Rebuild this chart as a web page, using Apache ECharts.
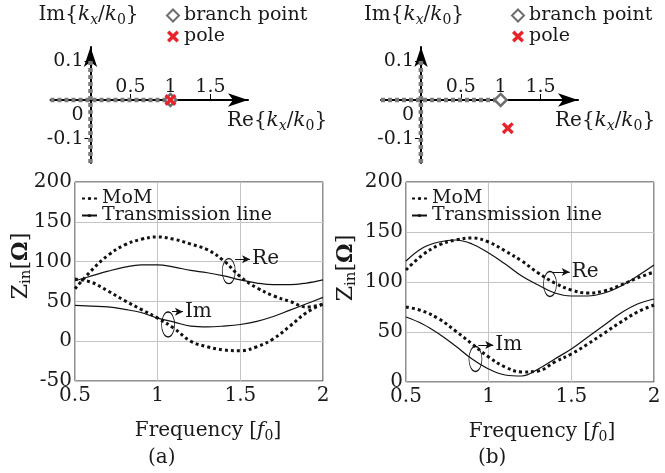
<!DOCTYPE html>
<html lang="en">
<head>
    <meta charset="UTF-8">
    <title>Zin</title>
    <script src="https://cdn.jsdelivr.net/npm/echarts@6/dist/echarts.min.js"></script>
    <style>
        body { margin: 0; padding: 0; background: #fff; }
        #chart { width: 665px; height: 473px; }
    </style>
</head>
<body>
<div id="chart"></div>
<script>
    // frequency samples [f0]
    const freq = [0.5, 0.6, 0.7, 0.8, 0.9, 1.0, 1.1, 1.2, 1.3, 1.4, 1.5, 1.6, 1.7, 1.8, 1.9, 2.0]
    // (a)
    const momReA = [66, 89, 108, 121, 128, 131, 128, 122, 115, 101, 81, 67, 57, 50, 43, 46]
    const momImA = [78, 74, 63, 51, 40, 29, 16, 0, -7, -11, -12, -7, 3, 19, 36, 47]
    const tlReA = [76, 82, 88, 93, 96, 96, 93, 89, 86, 82, 77, 73, 71, 71, 73, 77]
    const tlImA = [45, 44, 43, 40, 36, 29, 24, 19, 18, 19, 21, 25, 31, 39, 47, 55]
    // (b)
    const momReB = [112, 127, 137, 142, 144, 140, 131, 121, 109, 99, 92, 89, 91, 97, 104, 110]
    const momImB = [75, 71, 63, 51, 38, 25, 15, 10, 11, 20, 28, 38, 49, 60, 70, 77]
    const tlReB = [121, 134, 140, 142, 138, 129, 118, 106, 97, 89, 86, 86, 89, 96, 106, 117]
    const tlImB = [65, 58, 48, 36, 23, 13, 7, 6, 13, 23, 33, 45, 57, 69, 78, 83]

    // complex kx/k0 plane
    const branchA = [[1, 0]]
    const poleA = [[1, 0]]
    const branchB = [[1, 0]]
    const poleB = [[1.09, -0.073]]
    const cutRe = [[-0.5, 0], [1, 0]]
    const cutIm = [[0, -0.163], [0, 0.105]]
    const planeTicksX = [0.5, 1, 1.5]
    const planeTicksY = [-0.1, 0.1]
    const planeLabelsY = [-0.1, 0, 0.1]

    // ellipse + arrow callouts: [label, ellipse centre, arrow start, arrow end]
    const notesA = [['Re', [1.43, 88], [1.468, 103], [1.559, 103]], ['Im', [1.063, 21], [1.087, 37], [1.153, 37]]]
    const notesB = [['Re', [1.371, 98], [1.385, 110], [1.49, 110]], ['Im', [0.92, 23], [0.937, 37], [1.028, 37]]]

    const F = 'DejaVu Serif'
    const C = '#1a1a1a'

    function richSet(size, key) {
        key = key || 'color'
        const sub = Math.round(size * 0.68)
        const t = (o) => { o[key] = C; o.fontFamily = F; return o }
        return {
            n: t({fontSize: size, lineHeight: size + 4}),
            i: t({fontSize: size, lineHeight: size + 4, fontStyle: 'italic'}),
            o: t({fontSize: size, lineHeight: size + 4, fontWeight: 'bold'}),
            s: t({fontSize: sub, lineHeight: sub, verticalAlign: 'bottom'}),
            si: t({fontSize: sub, lineHeight: sub, verticalAlign: 'bottom', fontStyle: 'italic'}),
            z: t({fontSize: size, padding: [30, 0, 0, 0]})
        }
    }

    const imName = '{n|Im{}{i|k}{si|x}{n|/}{i|k}{s|0}}'
    const reName = '{n|Re{}{i|k}{si|x}{n|/}{i|k}{s|0}}'
    const zName = '{n|Z}{s|in}{n|[}{o|Ω}{n|]}'

    // the plane axes cross at the origin: shift them in from the grid edges
    function planeAxes(gi, gapX, yPad) {
        const x = {
            gridIndex: gi, type: 'value', min: -0.5, max: 1.97, offset: -63,
            axisLine: {show: true, onZero: false, symbol: ['none', 'arrow'], symbolSize: [10, 20], lineStyle: {color: '#000', width: 2}},
            axisTick: {show: true, inside: true, customValues: planeTicksX, length: 6, lineStyle: {color: '#000', width: 1}},
            axisLabel: {show: true, inside: true, margin: 3, customValues: planeTicksX, formatter: v => String(v),
                fontFamily: F, fontSize: 19, color: C},
            splitLine: {show: false},
            name: reName, nameLocation: 'end', nameGap: gapX, nameMoveOverlap: false,
            nameTextStyle: {fontFamily: F, fontSize: 20, color: C, padding: [42, 0, 0, 0], rich: richSet(20)}
        }
        const y = {
            gridIndex: gi, type: 'value', min: -0.163, max: 0.137, offset: -40,
            axisLine: {show: true, onZero: false, symbol: ['none', 'arrow'], symbolSize: [10, 20], lineStyle: {color: '#000', width: 2}},
            axisTick: {show: true, customValues: planeTicksY, length: 6, lineStyle: {color: '#000', width: 1}},
            axisLabel: {show: true, margin: 7, customValues: planeLabelsY,
                formatter: v => (v === 0 ? '{z|0}' : String(v)),
                fontFamily: F, fontSize: 19, color: C, rich: richSet(19)},
            splitLine: {show: false},
            name: imName, nameLocation: 'end', nameGap: 20, nameMoveOverlap: false,
            nameTextStyle: {fontFamily: F, fontSize: 20, color: C, padding: yPad, rich: richSet(20)}
        }
        return [x, y]
    }

    function zinAxes(gi, yMin, padX) {
        const x = {
            gridIndex: gi, type: 'value', min: 0.5, max: 2, interval: 0.5,
            axisLine: {show: false}, axisTick: {show: false},
            splitLine: {show: true, lineStyle: {color: '#c4c4c4', width: 1}},
            axisLabel: {fontFamily: F, fontSize: 20, color: C, margin: 5},
            name: '{n|Frequency [}{i|f}{s|0}{n|]}', nameLocation: 'middle', nameGap: 38, nameMoveOverlap: false,
            nameTextStyle: {fontFamily: F, fontSize: 20, color: C, padding: [0, 0, 0, padX], rich: richSet(20)}
        }
        const y = {
            gridIndex: gi, type: 'value', min: yMin, max: 200, interval: 50,
            axisLine: {show: false}, axisTick: {show: false},
            splitLine: {show: true, lineStyle: {color: '#c4c4c4', width: 1}},
            axisLabel: {fontFamily: F, fontSize: 20, color: C, margin: 3}
        }
        return [x, y]
    }

    const pts = arr => freq.map((f, i) => [f, arr[i]])
    const dotted = {color: '#111', width: 3, type: [3, 3], cap: 'butt'}
    const solid = {color: '#111', width: 1.2}
    const xMark = 'path://M0,2L2,0L5,3L8,0L10,2L7,5L10,8L8,10L5,7L2,10L0,8L3,5Z'

    function curve(gi, name, arr, style) {
        return {
            type: 'line', name: name, xAxisIndex: gi, yAxisIndex: gi, data: pts(arr),
            smooth: 0.4, symbol: 'none', lineStyle: style, itemStyle: {color: '#111'}, silent: true
        }
    }

    function planeSeries(gi, branch, pole) {
        const cut = d => ({
            type: 'line', xAxisIndex: gi, yAxisIndex: gi, data: d, symbol: 'none', silent: true,
            lineStyle: {color: '#7a7a7a', width: 4.5, type: [4, 3], cap: 'butt'}
        })
        return [
            cut(cutRe), cut(cutIm),
            {type: 'scatter', name: 'branch point', xAxisIndex: gi, yAxisIndex: gi, data: branch, symbol: 'diamond',
                symbolSize: 12, itemStyle: {color: '#fff', borderColor: '#6e6e6e', borderWidth: 2.5, opacity: 1}, z: 5},
            {type: 'scatter', name: 'pole', xAxisIndex: gi, yAxisIndex: gi, data: pole, symbol: xMark,
                symbolSize: 12, itemStyle: {color: '#e8232b', opacity: 1}, z: 6}
        ]
    }

    function noteSeries(gi, notes) {
        return notes.map(n => ({
            type: 'scatter', name: 'note' + gi + n[0], xAxisIndex: gi, yAxisIndex: gi, data: [n[1]], silent: true,
            symbol: 'circle', symbolSize: [13, 25],
            itemStyle: {color: 'rgba(0,0,0,0)', borderColor: '#111', borderWidth: 1, opacity: 1}, z: 7,
            markLine: {
                silent: true, symbol: ['none', 'arrow'], symbolSize: [6, 8], animation: false,
                lineStyle: {color: '#111', width: 1, type: 'solid'},
                label: {show: true, position: 'end', distance: 2, formatter: n[0], fontFamily: F, fontSize: 20, color: C},
                data: [[{coord: n[2]}, {coord: n[3]}]]
            }
        }))
    }

    // rotated y title of the impedance plots
    function zTitle(x, y) {
        return {
            type: 'text', x: x, y: y, rotation: Math.PI / 2, silent: true,
            style: {text: zName, rich: richSet(22, 'fill'), fontFamily: F, fontSize: 22, fill: C,
                align: 'center', verticalAlign: 'middle'}
        }
    }

    const pa = planeAxes(0, -21, [0, 4, 0, 0])
    const pb = planeAxes(1, -23, [0, 14, 0, 0])
    const za = zinAxes(2, -50, 18)
    const zb = zinAxes(3, 0, 24)

    const legendBase = {
        orient: 'vertical', selectedMode: false, padding: 0,
        textStyle: {fontFamily: F, fontSize: 19, color: C}
    }

    const option = {
        animation: false,
        backgroundColor: '#fff',
        title: [
            {text: '(a)', left: 148, top: 448, padding: 0, textStyle: {fontFamily: F, fontSize: 20, fontWeight: 'normal', color: C}},
            {text: '(b)', left: 478, top: 448, padding: 0, textStyle: {fontFamily: F, fontSize: 20, fontWeight: 'normal', color: C}}
        ],
        legend: [
            Object.assign({left: 166, top: 6, itemGap: 2, itemWidth: 12, itemHeight: 12, data: ['branch point', 'pole']}, legendBase),
            Object.assign({left: 511, top: 6, itemGap: 2, itemWidth: 12, itemHeight: 12, data: ['branch point', 'pole']}, legendBase),
            Object.assign({left: 81, top: 189, itemGap: -2, itemWidth: 15, itemHeight: 4, data: ['MoM', 'Transmission line']}, legendBase),
            Object.assign({left: 411, top: 189, itemGap: -2, itemWidth: 15, itemHeight: 4, data: ['MoM', 'Transmission line']}, legendBase)
        ],
        grid: [
            {left: 50.5, right: 417, top: 47, bottom: 310, outerBoundsMode: 'none'},
            {left: 381, right: 87, top: 47, bottom: 310, outerBoundsMode: 'none'},
            {left: 75, right: 342, top: 182, bottom: 92, show: true, borderColor: '#222', borderWidth: 1, outerBoundsMode: 'none'},
            {left: 406, right: 11, top: 182, bottom: 91, show: true, borderColor: '#222', borderWidth: 1, outerBoundsMode: 'none'}
        ],
        graphic: [zTitle(21, 266), zTitle(346, 268)],
        xAxis: [pa[0], pb[0], za[0], zb[0]],
        yAxis: [pa[1], pb[1], za[1], zb[1]],
        series: [].concat(
            planeSeries(0, branchA, poleA),
            planeSeries(1, branchB, poleB),
            curve(2, 'Transmission line', tlReA, solid),
            curve(2, 'Transmission line', tlImA, solid),
            curve(2, 'MoM', momReA, dotted),
            curve(2, 'MoM', momImA, dotted),
            curve(3, 'Transmission line', tlReB, solid),
            curve(3, 'Transmission line', tlImB, solid),
            curve(3, 'MoM', momReB, dotted),
            curve(3, 'MoM', momImB, dotted),
            noteSeries(2, notesA),
            noteSeries(3, notesB)
        )
    }

    const chart = echarts.init(document.getElementById('chart'))
    chart.setOption(option)
</script>
</body>
</html>
